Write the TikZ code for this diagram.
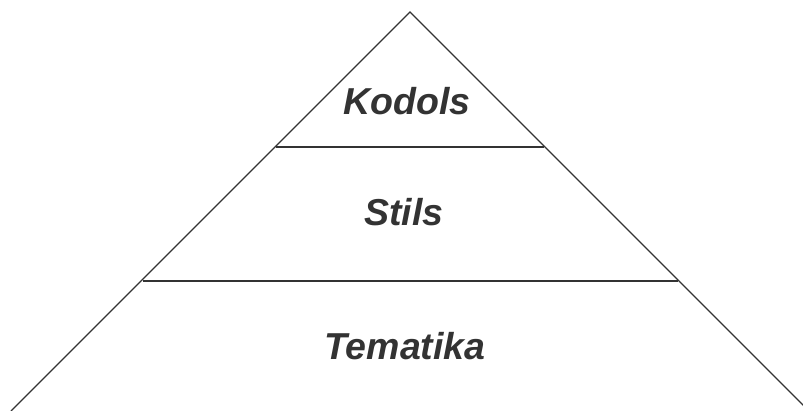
\documentclass[tikz,border=0pt]{standalone}
\usepackage{fontspec}
\setmainfont{Liberation Sans}
\definecolor{ink}{HTML}{333333}
\begin{document}
\begin{tikzpicture}[x=1pt,y=-1pt,
  edge/.style={draw=ink,line width=1.1pt},
  tier/.style={draw=ink,line width=1.6pt},
  label/.style={text=ink,font=\fontsize{37.5}{42}\selectfont\bfseries\itshape,anchor=base,inner sep=0pt}]
\useasboundingbox (0,0) rectangle (803,410);
\clip (0,0) rectangle (803,410);
\coordinate (apex) at (410,12);
\coordinate (bl) at (11,411);
\coordinate (br) at (809,411);
\coordinate (l1) at (276,147);
\coordinate (r1) at (544,147);
\coordinate (l2) at (143,281);
\coordinate (r2) at (678,281);
\draw[edge] (bl) -- (apex) -- (br);
\draw[tier] (l1) -- (r1);
\draw[tier] (l2) -- (r2);
\node[label] (k) at (407,114) {Kodols};
\node[label] (s) at (404,225) {Stils};
\node[label] (t) at (405,359) {Tematika};
\end{tikzpicture}
\end{document}
